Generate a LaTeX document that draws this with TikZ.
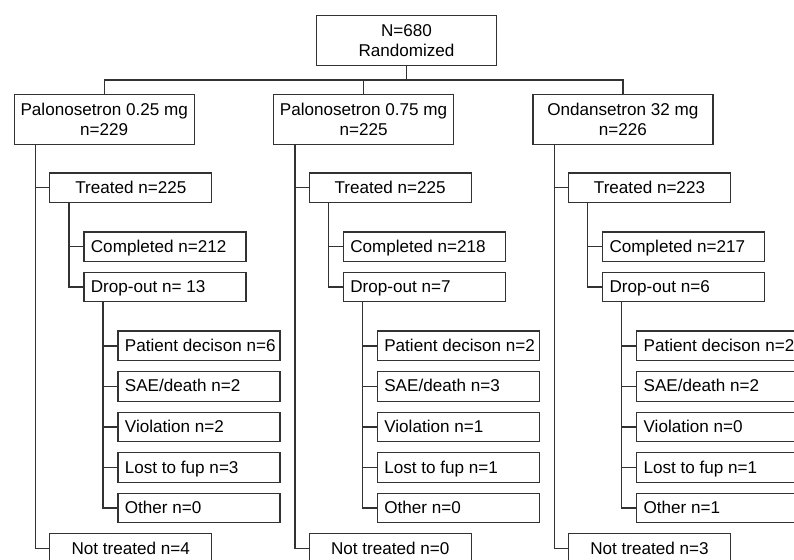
\documentclass[tikz,border=0pt]{standalone}
\usepackage{fontspec}
\setmainfont{Liberation Sans}
\definecolor{linec}{RGB}{50,50,50}
\newcommand\leftcell[1]{\makebox[148pt][l]{#1}}
\newcommand\armcol[7]{%
  \begin{scope}[xshift=#2pt]
    \node[big] (g#1) at (104.2,119.2) {#3};
    \node[mid] (t#1) at (130.8,187.8) {#4};
    \node[lbox] (c#1) at (164.9,246.7) {\leftcell{#5}};
    \node[lbox] (d#1) at (164.9,287) {\leftcell{#6}};
    \node[mid] (n#1) at (130.8,548.4) {#7};
    \coordinate (v#1) at (35.7,0);
    \coordinate (w#1) at (69,0);
  \end{scope}
  \draw[link] (v#1 |- g#1.south) |- (n#1.west);
  \draw[link] (v#1 |- t#1.west) -- (t#1.west);
  \draw[link] (w#1 |- t#1.south) |- (d#1.west);
  \draw[link] (w#1 |- c#1.west) -- (c#1.west);
}
\newcommand\reasoncol[7]{%
  \begin{scope}[xshift=#2pt]
    \node[lbox] (ra#1) at (198.9,345.85) {\leftcell{#3}};
    \node[lbox] (rb#1) at (198.9,386.35) {\leftcell{#4}};
    \node[lbox] (rc#1) at (198.9,427) {\leftcell{#5}};
    \node[lbox] (rd#1) at (198.9,467.5) {\leftcell{#6}};
    \node[lbox] (re#1) at (198.9,508) {\leftcell{#7}};
    \coordinate (u#1) at (103,0);
  \end{scope}
  \draw[link] (u#1 |- d#1.south) |- (re#1.west);
  \foreach \k in {a,b,c,d} {\draw[link] (u#1 |- r\k#1.west) -- (r\k#1.west);}
}
\begin{document}
\begin{tikzpicture}[x=1pt,y=-1pt,
  every node/.style={font=\fontsize{17.1}{20}\selectfont, text=black},
  box/.style={draw=linec, line width=1.3pt, rectangle, inner sep=0pt, fill=white},
  big/.style={box, minimum width=180pt, minimum height=50pt, align=center},
  mid/.style={box, minimum width=162pt, minimum height=29.6pt, text height=12.2pt, text depth=1pt},
  lbox/.style={mid, inner xsep=7pt},
  link/.style={draw=linec, line width=1.3pt}]
\useasboundingbox (0,0) rectangle (794,559);
\clip (0,0) rectangle (794,559);
\fill[white] (0,0) rectangle (794,559);
\node[big] (top) at (406.5,40.3) {N=680\\Randomized};
\coordinate (bus) at (0,80);
\armcol{1}{0}{Palonosetron 0.25 mg\\n=229}{Treated n=225}{Completed n=212}{Drop-out n= 13}{Not treated n=4}
\armcol{2}{259.4}{Palonosetron 0.75 mg\\n=225}{Treated n=225}{Completed n=218}{Drop-out n=7}{Not treated n=0}
\armcol{3}{518.7}{Ondansetron 32 mg\\n=226}{Treated n=223}{Completed n=217}{Drop-out n=6}{Not treated n=3}
\reasoncol{1}{0}{Patient decison n=6}{SAE/death n=2}{Violation n=2}{Lost to fup n=3}{Other n=0}
\reasoncol{2}{259.4}{Patient decison n=2}{SAE/death n=3}{Violation n=1}{Lost to fup n=1}{Other n=0}
\reasoncol{3}{518.7}{Patient decison n=2}{SAE/death n=2}{Violation n=0}{Lost to fup n=1}{Other n=1}
\draw[link] (top.south) -- (top.south |- bus);
\draw[link] (g1.north) |- (g3.north |- bus) -- (g3.north);
\draw[link] (g2.north) -- (g2.north |- bus);
\end{tikzpicture}
\end{document}
